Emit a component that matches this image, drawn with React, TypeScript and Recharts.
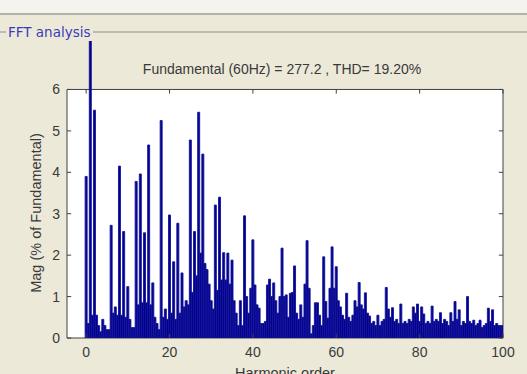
import { BarChart, Bar, XAxis, YAxis, ReferenceArea, ReferenceLine } from 'recharts'

// harmonic spectrum, one value every half harmonic (% of fundamental)
const ORDER_STEP = 0.5

const MAG_0_20 = [
  3.9, 0.35, 100, 0.55, 5.5, 0.55, 0.3, 0.15, 0.45, 0.3,
  0.2, 0.2, 2.72, 0.6, 0.75, 0.55, 4.15, 0.55, 2.57, 0.5,
  1.24, 0.45, 0.25, 0.25, 3.78, 0.8, 3.96, 0.85, 2.54, 0.85,
  4.66, 0.8, 1.33, 0.5, 0.35, 0.2, 5.25, 0.5, 0.7, 0.45,
]
const MAG_20_40 = [
  2.97, 0.6, 1.84, 0.45, 2.77, 0.6, 1.57, 0.75, 0.9, 0.8,
  4.78, 1.1, 2.57, 1.5, 5.45, 2.05, 4.44, 1.8, 1.65, 1.3,
  0.9, 0.7, 3.21, 1.15, 3.4, 1.4, 2.06, 1.4, 2.05, 1.3,
  1.88, 0.9, 0.6, 0.3, 0.9, 0.3, 2.95, 1.0, 0.6, 1.2,
]
const MAG_40_60 = [
  2.37, 1.28, 0.8, 0.72, 0.35, 0.35, 0.4, 1.28, 1.42, 1.0,
  1.33, 0.9, 0.6, 1.0, 2.17, 1.0, 1.04, 0.5, 1.08, 1.1,
  1.74, 0.6, 0.45, 0.8, 0.5, 1.3, 2.35, 1.2, 0.1, 0.3,
  0.85, 0.85, 0.55, 0.3, 1.96, 0.88, 0.48, 1.2, 2.2, 1.2,
]
const MAG_60_80 = [
  1.72, 0.9, 0.75, 0.55, 0.45, 1.08, 0.5, 0.4, 0.55, 0.9,
  0.75, 1.34, 0.8, 0.7, 1.09, 0.6, 0.53, 0.35, 0.4, 0.3,
  0.55, 0.3, 0.4, 0.45, 1.22, 0.7, 0.5, 0.73, 0.4, 0.45,
  0.35, 0.82, 0.35, 0.4, 0.35, 0.45, 0.4, 0.75, 0.6, 0.82,
]
const MAG_80_100 = [
  0.4, 0.75, 0.58, 0.35, 0.4, 0.35, 0.77, 0.4, 0.45, 0.4,
  0.61, 0.35, 0.45, 0.4, 0.3, 0.61, 0.4, 0.88, 0.45, 0.68,
  0.3, 0.4, 0.35, 1.0, 0.4, 0.35, 0.43, 0.3, 0.35, 0.43,
  0.25, 0.3, 0.35, 0.72, 0.4, 0.68, 0.3, 0.35, 0.3, 0.3, 0.3,
]

const X_TICKS = [0, 20, 40, 60, 80, 100]
const Y_TICKS = [0, 1, 2, 3, 4, 5, 6]
const X_MIN = -4.6
const X_MAX = 100
const Y_BOX_TOP = 6
const Y_VIEW_TOP = 7.17

const TITLE = 'Fundamental (60Hz) = 277.2 , THD= 19.20%'
const PANEL_TITLE = 'FFT analysis'

const magnitudes = [...MAG_0_20, ...MAG_20_40, ...MAG_40_60, ...MAG_60_80, ...MAG_80_100]
const data = magnitudes.map((mag, i) => ({ order: i * ORDER_STEP, mag }))

const FONT = '"Liberation Sans", Arial, sans-serif'
const TEXT_COLOR = '#3a3a3a'
const AXIS_COLOR = '#404040'

export default function App() {
  return (
    <div
      style={{
        position: 'fixed',
        left: 0,
        top: 0,
        width: 527,
        height: 374,
        overflow: 'hidden',
        background: '#ece9d8',
        fontFamily: FONT,
      }}
    >
      {/* window strip + group box frame */}
      <div style={{ position: 'absolute', left: 0, top: 0, width: 527, height: 13, background: '#f4f3ee' }} />
      <div style={{ position: 'absolute', left: 0, top: 13, width: 527, height: 2, background: '#b3b2aa' }} />
      <div style={{ position: 'absolute', left: 0, top: 31, width: 527, height: 2, background: '#bdbcb4' }} />
      <div
        style={{
          position: 'absolute',
          left: 6,
          top: 23,
          padding: '0 2px',
          background: '#ece9d8',
          color: '#3b3bb8',
          fontFamily: '"DejaVu Sans", sans-serif',
          fontSize: 13.5,
          lineHeight: '18px',
        }}
      >
        {PANEL_TITLE}
      </div>

      <div style={{ position: 'absolute', left: 0, top: 0 }}>
        <BarChart
          width={527}
          height={374}
          data={data}
          margin={{ top: 41, right: 24, left: 0, bottom: 0 }}
          barCategoryGap={0}
          barGap={0}
        >
          <ReferenceArea
            x1={X_MIN}
            x2={X_MAX}
            y1={0}
            y2={Y_BOX_TOP}
            fill="#ffffff"
            fillOpacity={1}
            stroke="none"
            ifOverflow="visible"
          />
          <XAxis
            dataKey="order"
            type="number"
            domain={[X_MIN, X_MAX]}
            allowDataOverflow
            ticks={X_TICKS}
            axisLine={false}
            tickLine={false}
            tickSize={0}
            tickMargin={9}
            height={36}
            tick={{ fontSize: 14, fill: TEXT_COLOR, fontFamily: FONT }}
            label={{
              value: 'Harmonic order',
              position: 'insideBottom',
              offset: -4,
              fontSize: 14.5,
              fill: TEXT_COLOR,
              fontFamily: FONT,
            }}
          />
          <YAxis
            type="number"
            domain={[0, Y_VIEW_TOP]}
            allowDataOverflow
            ticks={Y_TICKS}
            axisLine={false}
            tickLine={false}
            tickSize={0}
            tickMargin={7}
            width={67}
            tick={{ fontSize: 14, fill: TEXT_COLOR, fontFamily: FONT }}
          />
          <Bar
            dataKey="mag"
            fill="#00008e"
            stroke="#14149a"
            strokeWidth={0.9}
            isAnimationActive={false}
          />
          <ReferenceArea
            x1={X_MIN}
            x2={X_MAX}
            y1={0}
            y2={Y_BOX_TOP}
            fill="none"
            stroke={AXIS_COLOR}
            strokeWidth={1}
            ifOverflow="visible"
          />
          {X_TICKS.map((t) => (
            <ReferenceLine
              key={`xb-${t}`}
              segment={[{ x: t, y: 0 }, { x: t, y: 0.1 }]}
              stroke={AXIS_COLOR}
            />
          ))}
          {X_TICKS.map((t) => (
            <ReferenceLine
              key={`xt-${t}`}
              segment={[{ x: t, y: Y_BOX_TOP }, { x: t, y: Y_BOX_TOP - 0.1 }]}
              stroke={AXIS_COLOR}
            />
          ))}
          {Y_TICKS.map((t) => (
            <ReferenceLine
              key={`yl-${t}`}
              segment={[{ x: X_MIN, y: t }, { x: X_MIN + 1, y: t }]}
              stroke={AXIS_COLOR}
            />
          ))}
          {Y_TICKS.map((t) => (
            <ReferenceLine
              key={`yr-${t}`}
              segment={[{ x: X_MAX, y: t }, { x: X_MAX - 1, y: t }]}
              stroke={AXIS_COLOR}
            />
          ))}
        </BarChart>
      </div>

      <svg
        width={527}
        height={374}
        style={{ position: 'absolute', left: 0, top: 0, pointerEvents: 'none' }}
      >
        <text
          x={282}
          y={74}
          textAnchor="middle"
          fontSize={14}
          fill={TEXT_COLOR}
          fontFamily={FONT}
        >
          {TITLE}
        </text>
        <text
          x={41}
          y={213}
          textAnchor="middle"
          fontSize={14.5}
          fill={TEXT_COLOR}
          fontFamily={FONT}
          transform="rotate(-90 41 213)"
        >
          Mag (% of Fundamental)
        </text>
      </svg>
    </div>
  )
}
